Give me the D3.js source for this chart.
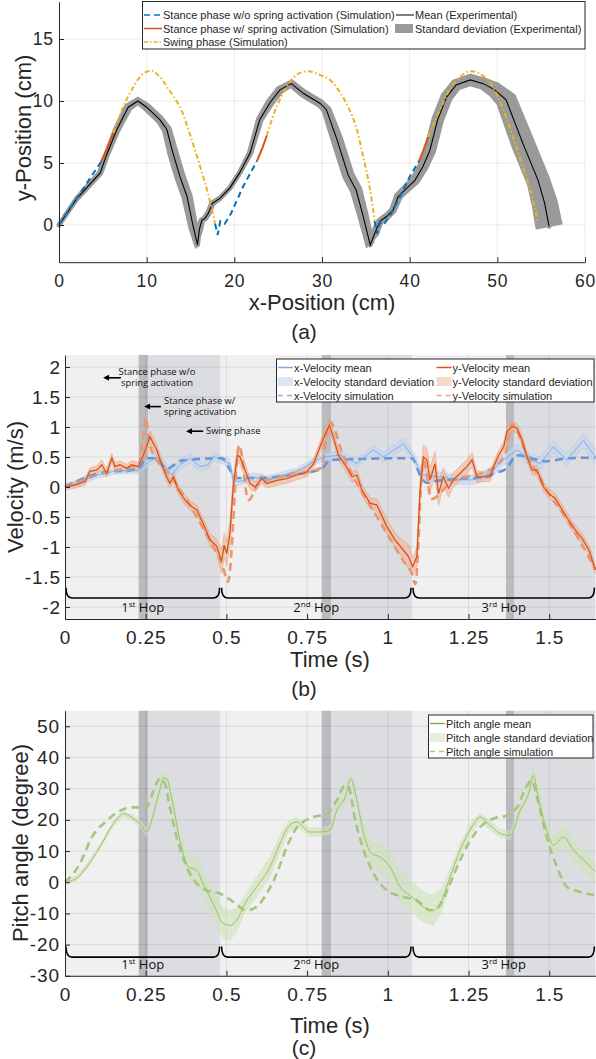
<!doctype html>
<html lang="en">
  <head>
    <meta charset="utf-8">
    <title>Hopping: trajectory, velocity and pitch angle</title>
    <style>
      body { margin: 0; background: #fff; }
      svg { display: block; font-family: 'Liberation Sans', Arial, sans-serif; }
      .tick text { fill: #262626; }
      .domain, .tick line { stroke: #262626; }
    </style>
  </head>
  <body>
    <svg id="fig" width="596" height="1059"></svg>

    <script src="https://cdn.jsdelivr.net/npm/d3@7"></script>
    <script>
      // ---------- data: (a) trajectory, cm  [x, y, sd] ----------
      const trajMean = [
        [0,0,0.1],[2.0,2.1,0.15],[4.7,4.2,0.2],[5.4,5.6,0.2],[6.6,7.7,0.25],[7.9,9.5,0.3],
        [9.0,10.0,0.3],[10.0,9.5,0.3],[11.5,8.5,0.3],[12.3,7.7,0.35],[13.0,5.8,0.4],[13.8,3.9,0.4],
        [14.6,2.3,0.4],[15.3,-0.1,0.35],[15.8,-1.6,0.3],[16.0,-0.4,0.25],[16.3,0.4,0.2],[16.6,0.5,0.2],
        [17.0,0.9,0.2],[17.5,1.75,0.2],[18.35,2.15,0.15],[19.5,3.0,0.15],[20.6,4.2,0.15],[21.8,5.8,0.2],
        [22.9,8.5,0.25],[24.1,9.9,0.3],[25.2,10.9,0.3],[26.5,11.4,0.3],[27.9,10.6,0.3],[29.8,9.8,0.3],
        [30.5,9.3,0.35],[31.7,6.9,0.45],[33.0,4.0,0.45],[33.9,2.8,0.45],[34.7,0.7,0.4],[35.5,-1.6,0.35],
        [36.0,-0.7,0.3],[36.6,0.3,0.25],[37.4,0.7,0.25],[38.1,1.2,0.25],[38.7,2.3,0.3],[39.4,2.8,0.3],
        [40.6,3.6,0.35],[41.5,4.7,0.4],[42.3,6.0,0.45],[43.2,8.5,0.45],[44.2,10.3,0.45],[45.3,11.3,0.45],
        [46.9,11.7,0.45],[48.4,11.4,0.45],[49.7,10.9,0.6],[51.0,10.1,0.8],[52.9,6.6,0.9],[54.65,3.6,0.9],
        [55.4,1.75,1.0],[55.9,-0.1,1.05]
      ]
      // simulation segments [x, y]
      const simStanceNoSpring = [
        [[0,0],[1.5,1.6],[3.2,3.4],[4.8,5.1]],
        [[17.8,0.1],[18.1,-0.8],[18.4,0.3],[18.9,0.1],[19.6,0.9],[21.0,3.1],[22.6,5.2]],
        [[36.0,0.3],[36.3,-0.7],[36.6,0.2],[37.0,0.0],[37.8,0.8],[38.9,2.3],[40.0,3.9],[41.1,5.2]]
      ]
      const simStanceSpring = [
        [[4.8,5.1],[5.5,6.2],[6.2,7.4]],
        [[22.6,5.2],[23.2,6.2],[23.7,7.2]],
        [[41.1,5.2],[41.6,6.1],[42.1,7.1]]
      ]
      const simSwing = [
        [[6.2,7.4],[7.3,9.5],[8.5,11.15],[9.6,12.2],[10.6,12.45],[11.5,11.95],[12.3,11.15],[13.8,9.5],[14.9,7.4],[16.1,4.7],[17.0,2.55],[17.8,0.1]],
        [[23.7,7.2],[24.8,9.5],[26.3,11.5],[27.3,12.2],[28.4,12.4],[29.6,12.15],[30.9,11.7],[32.4,10.3],[33.75,8.2],[34.7,5.5],[35.5,2.8],[36.0,0.3]],
        [[42.1,7.1],[43.6,9.5],[45.0,11.4],[46.9,12.4],[48.8,11.8],[50.1,10.3],[51.4,7.9],[52.9,4.7],[53.9,2.55],[54.65,0.15]]
      ]
      const legendA = [
        'Stance phase w/o spring activation (Simulation)',
        'Stance phase w/ spring activation (Simulation)',
        'Swing phase (Simulation)',
        'Mean (Experimental)',
        'Standard deviation (Experimental)'
      ]

      // ---------- data: (b) velocity, m/s  [t, mean, sd] ----------
      const xVelMean = [
        [0,0.02,0.04],[0.03,0.05,0.05],[0.06,0.12,0.06],[0.1,0.2,0.05],[0.15,0.26,0.05],[0.2,0.28,0.05],
        [0.227,0.27,0.05],[0.25,0.38,0.06],[0.284,0.5,0.07],[0.31,0.35,0.08],[0.33,0.2,0.07],[0.355,0.37,0.08],
        [0.386,0.48,0.08],[0.418,0.34,0.07],[0.444,0.37,0.07],[0.459,0.51,0.07],[0.485,0.45,0.06],[0.511,0.39,0.07],
        [0.521,0.11,0.07],[0.542,0.09,0.06],[0.583,0.17,0.07],[0.625,0.11,0.07],[0.666,0.17,0.07],[0.697,0.23,0.06],
        [0.718,0.25,0.06],[0.759,0.39,0.06],[0.8,0.5,0.06],[0.852,0.53,0.07],[0.904,0.39,0.07],[0.955,0.62,0.08],
        [0.986,0.5,0.08],[1.048,0.72,0.09],[1.079,0.5,0.08],[1.105,0.2,0.08],[1.162,0.17,0.08],[1.213,0.12,0.08],
        [1.265,0.12,0.08],[1.317,0.23,0.08],[1.358,0.45,0.09],[1.4,0.62,0.1],[1.441,0.45,0.1],[1.472,0.39,0.1],
        [1.513,0.67,0.1],[1.554,0.45,0.1],[1.606,0.78,0.12],[1.643,0.5,0.12]
      ]
      const yVelMean = [
        [0,0.0,0.05],[0.031,0.03,0.05],[0.062,0.09,0.06],[0.077,0.26,0.06],[0.098,0.28,0.07],[0.114,0.37,0.08],
        [0.129,0.23,0.07],[0.145,0.48,0.08],[0.155,0.34,0.07],[0.17,0.37,0.07],[0.191,0.31,0.07],[0.207,0.37,0.07],
        [0.227,0.34,0.07],[0.243,0.53,0.08],[0.263,0.84,0.1],[0.284,0.62,0.1],[0.3,0.37,0.08],[0.315,0.17,0.08],
        [0.325,0.06,0.07],[0.336,0.17,0.08],[0.351,-0.05,0.08],[0.372,-0.22,0.08],[0.393,-0.33,0.08],[0.408,-0.38,0.08],
        [0.428,-0.61,0.09],[0.449,-0.88,0.1],[0.47,-0.99,0.12],[0.485,-1.24,0.2],[0.493,-0.97,0.2],[0.501,-1.11,0.2],
        [0.511,-0.77,0.2],[0.521,0.0,0.15],[0.534,0.53,0.12],[0.542,0.5,0.12],[0.558,0.28,0.12],[0.573,0.06,0.1],
        [0.589,0.0,0.08],[0.609,0.14,0.08],[0.625,0.06,0.08],[0.656,0.11,0.08],[0.687,0.14,0.08],[0.718,0.2,0.08],
        [0.749,0.25,0.08],[0.77,0.39,0.08],[0.79,0.67,0.09],[0.805,0.87,0.1],[0.819,1.03,0.1],[0.831,0.84,0.1],
        [0.847,0.53,0.09],[0.868,0.37,0.09],[0.889,0.17,0.09],[0.904,0.2,0.09],[0.92,-0.05,0.09],[0.945,-0.27,0.09],
        [0.966,-0.3,0.1],[0.997,-0.66,0.12],[1.022,-0.88,0.12],[1.048,-1.05,0.15],[1.064,-1.16,0.2],[1.077,-1.33,0.15],
        [1.09,-1.16,0.15],[1.1,-0.05,0.15],[1.11,0.5,0.2],[1.121,0.45,0.2],[1.131,0.12,0.2],[1.146,0.39,0.2],
        [1.157,-0.11,0.2],[1.172,0.17,0.15],[1.188,-0.02,0.15],[1.203,0.12,0.12],[1.224,0.23,0.12],[1.245,0.34,0.12],
        [1.261,0.45,0.12],[1.276,0.17,0.1],[1.297,0.17,0.08],[1.317,0.17,0.08],[1.328,0.34,0.08],[1.343,0.53,0.08],
        [1.359,0.67,0.08],[1.369,0.92,0.08],[1.385,1.01,0.08],[1.4,0.98,0.08],[1.416,0.78,0.08],[1.431,0.5,0.08],
        [1.447,0.28,0.08],[1.462,0.28,0.08],[1.483,0.0,0.08],[1.498,-0.11,0.08],[1.519,-0.19,0.08],[1.54,-0.38,0.08],
        [1.56,-0.55,0.08],[1.581,-0.72,0.08],[1.602,-0.86,0.08],[1.623,-1.05,0.08],[1.643,-1.38,0.08]
      ]
      const xVelSim = [
        [0,0],[0.1,0.22],[0.15,0.26],[0.207,0.28],[0.228,0.3],[0.253,0.48],[0.28,0.48],[0.315,0.3],[0.36,0.44],
        [0.487,0.48],[0.515,0.25],[0.53,0.15],[0.6,0.15],[0.7,0.2],[0.795,0.3],[0.82,0.45],[1.075,0.48],[1.1,0.2],
        [1.12,0.07],[1.15,0.1],[1.3,0.17],[1.336,0.24],[1.366,0.3],[1.4,0.53],[1.49,0.43],[1.56,0.48],[1.643,0.49]
      ]
      const yVelSim = [
        [0,0],[0.05,0.1],[0.1,0.2],[0.15,0.27],[0.2,0.32],[0.228,0.36],[0.24,0.75],[0.25,1.17],[0.262,0.7],
        [0.336,0.12],[0.377,-0.22],[0.408,-0.5],[0.45,-0.9],[0.487,-1.3],[0.505,-1.58],[0.54,0.7],[0.568,-0.22],
        [0.6,0.05],[0.7,0.2],[0.795,0.32],[0.81,0.9],[0.822,1.08],[0.86,0.55],[0.9,0.1],[0.95,-0.35],[1.0,-0.8],
        [1.05,-1.25],[1.075,-1.45],[1.085,-1.62],[1.11,0.45],[1.135,-0.2],[1.2,0.1],[1.3,0.25],[1.345,0.4],
        [1.366,0.6],[1.385,1.05],[1.43,0.55],[1.5,-0.12],[1.55,-0.5],[1.6,-0.95],[1.643,-1.38]
      ]
      const legendB = [
        'x-Velocity mean', 'x-Velocity standard deviation', 'x-Velocity simulation',
        'y-Velocity mean', 'y-Velocity standard deviation', 'y-Velocity simulation'
      ]
      const notesB = [
        { t: 0.285, v: 1.82, arrow: [0.173, 0.118], lines: ['Stance phase w/o', 'spring activation'], anchor: 'middle' },
        { t: 0.307, v: 1.34, arrow: [0.297, 0.245], lines: ['Stance phase w/', 'spring activation'], anchor: 'start' },
        { t: 0.437, v: 0.93, arrow: [0.428, 0.375], lines: ['Swing phase'], anchor: 'start' }
      ]

      // ---------- data: (c) pitch angle, degree  [t, mean, sd] ----------
      const pitchMean = [
        [0,0.1,0.6],[0.035,1.2,1],[0.067,4.9,1],[0.108,11.3,1],[0.15,18.8,1],[0.181,22,1],[0.212,20.4,1.2],
        [0.232,18.8,1.2],[0.253,16.1,1.5],[0.274,22,2],[0.295,30,3],[0.305,33.5,2.5],[0.315,33.2,2.5],[0.33,27.3,2.5],
        [0.356,13.4,3],[0.382,4.9,4],[0.408,3.8,4.5],[0.428,-0.5,4],[0.459,-6.9,4.5],[0.49,-13.2,5],[0.511,-13.8,5],
        [0.532,-12.2,4],[0.557,-6.9,3],[0.593,-1.6,3.5],[0.635,4.9,3.5],[0.666,12.4,3],[0.692,17.7,2],[0.718,19.3,1.5],
        [0.738,17.7,1.5],[0.759,16.1,1.5],[0.79,16.1,1.5],[0.821,16.7,1.5],[0.842,23.1,2],[0.868,27.3,2.5],
        [0.885,33.2,2.5],[0.904,26.3,3],[0.925,15.6,4],[0.95,9.2,4],[0.976,8.1,5],[1.007,4.9,5],[1.038,-1.5,5],
        [1.075,-4.7,5],[1.11,-7.9,5],[1.141,-9,5],[1.167,-5.8,4],[1.193,1.7,3],[1.224,10.3,2.5],[1.26,17.7,2],
        [1.286,20.9,1.5],[1.317,18.2,1.5],[1.348,15.6,1.5],[1.379,15,1.5],[1.41,23.1,2],[1.436,28.4,3],
        [1.451,34.3,3],[1.466,27.3,3],[1.492,16.7,3],[1.513,11.9,3],[1.544,14.5,3.5],[1.575,10.3,3.5],
        [1.606,7.1,3.5],[1.643,3.4,3.5]
      ]
      const pitchSim = [
        [0,0],[0.046,5.9],[0.083,14.4],[0.129,19.7],[0.17,22.9],[0.212,24],[0.253,24],[0.274,29.3],[0.294,33.3],
        [0.31,31.4],[0.325,24],[0.346,14.4],[0.377,4.9],[0.408,-0.4],[0.439,-2.6],[0.48,-3.6],[0.521,-6.3],
        [0.563,-9],[0.593,-7.9],[0.625,-3.6],[0.656,2.8],[0.687,11.3],[0.718,17.5],[0.769,20.9],[0.81,21.9],
        [0.842,26.3],[0.868,31.1],[0.878,30.6],[0.899,19.9],[0.925,10.3],[0.956,2.8],[0.997,-2.6],[1.048,-4.7],
        [1.09,-5.8],[1.131,-9],[1.157,-7.9],[1.188,-1.5],[1.219,5.9],[1.25,12.4],[1.286,17.7],[1.327,20.4],
        [1.369,21.4],[1.4,24],[1.431,31],[1.446,32.6],[1.462,27.3],[1.492,14.5],[1.524,4.9],[1.555,-1.5],
        [1.596,-3.1],[1.643,-4.2]
      ]
      const legendC = ['Pitch angle mean', 'Pitch angle standard deviation', 'Pitch angle simulation']

      // ---------- shared: gait phases and hops ----------
      const phaseBounds = [0, 0.228, 0.258, 0.482, 0.795, 0.824, 1.075, 1.366, 1.391, 1.643]
      const phaseKinds = ['noSpring', 'spring', 'swing', 'noSpring', 'spring', 'swing', 'noSpring', 'spring', 'swing']
      const hopBounds = [[0, 0.482], [0.482, 1.075], [1.075, 1.643]]
      const hopNums = ['1', '2', '3']
      const hopSuffix = ['st', 'nd', 'rd']

      const timeTicks = [0, 0.25, 0.5, 0.75, 1, 1.25, 1.5]
      const velTicks = [-2, -1.5, -1, -0.5, 0, 0.5, 1, 1.5, 2]
      const pitchTicks = [-30, -20, -10, 0, 10, 20, 30, 40, 50]
      const posXTicks = [0, 10, 20, 30, 40, 50, 60]
      const posYTicks = [0, 5, 10, 15]

      // ---------- styles ----------
      const phaseFill = { noSpring: '#f0f0f0', spring: '#babbbe', swing: '#dcdde0' }
      const ink = '#262626'

      const svg = d3.select('#fig')

      const xA = d3.scaleLinear().domain([0, 60]).range([59, 585])
      const yA = d3.scaleLinear().domain([-3, 18]).range([262.2, 1.8])
      const xT = d3.scaleLinear().domain([0, 1.643]).range([65, 595.4])
      const yB = d3.scaleLinear().domain([-2.2, 2.2]).range([619, 355])
      const yC = d3.scaleLinear().domain([-30, 55]).range([975.8, 710.7])

      function grid(g, x, y, xt, yt, color, op) {
        const gg = g.append('g').attr('stroke', color).attr('stroke-opacity', op).attr('stroke-width', 1)
        gg.selectAll('.gx').data(xt).join('line').attr('class', 'gx')
          .attr('x1', d => x(d)).attr('x2', d => x(d))
          .attr('y1', y.range()[0]).attr('y2', y.range()[1])
        gg.selectAll('.gy').data(yt).join('line').attr('class', 'gy')
          .attr('x1', x.range()[0]).attr('x2', x.range()[1])
          .attr('y1', d => y(d)).attr('y2', d => y(d))
      }

      function axes(g, x, y, xt, yt, fs, xPad, yPad) {
        const fmt = d => String(d)
        const ax = g.append('g').attr('transform', `translate(0,${y.range()[0]})`)
          .call(d3.axisBottom(x).tickValues(xt).tickFormat(fmt).tickSize(-5).tickSizeOuter(0).tickPadding(xPad))
        const ay = g.append('g').attr('transform', `translate(${x.range()[0]},0)`)
          .call(d3.axisLeft(y).tickValues(yt).tickFormat(fmt).tickSize(-5).tickSizeOuter(0).tickPadding(yPad))
        ;[ax, ay].forEach(a => a.selectAll('text')
          .attr('font-size', fs).attr('letter-spacing', 0.9)
          .attr('font-family', "'Liberation Sans', Arial, sans-serif"))
        ax.select('.domain').attr('stroke-width', 1)
        ay.select('.domain').attr('stroke-width', 1)
      }

      function titleText(x, y, text, rotate, fs) {
        const t = svg.append('text')
          .attr('font-size', fs || 22).attr('fill', ink).attr('text-anchor', 'middle')
          .text(text)
        if (rotate) t.attr('transform', `translate(${x},${y}) rotate(-90)`)
        else t.attr('x', x).attr('y', y)
      }

      // offset ribbon around a 2D path (pixel space), half-width in px
      function ribbon(pts) {
        const left = [], right = []
        pts.forEach((p, i) => {
          const a = pts[Math.max(i - 1, 0)], b = pts[Math.min(i + 1, pts.length - 1)]
          const dx = b[0] - a[0], dy = b[1] - a[1]
          const len = Math.hypot(dx, dy) || 1
          const nx = -dy / len, ny = dx / len
          left.push([p[0] + nx * p[2], p[1] + ny * p[2]])
          right.push([p[0] - nx * p[2], p[1] - ny * p[2]])
        })
        return left.concat(right.reverse())
      }

      // ================= (a) =================
      const gA = svg.append('g')
      grid(gA, xA, yA, posXTicks.slice(1), posYTicks, '#262626', 0.09)

      const lineA = d3.line().x(d => xA(d[0])).y(d => yA(d[1]))
      const pxPerCm = yA(0) - yA(1)
      const bandPts = trajMean.map(d => [xA(d[0]), yA(d[1]), d[2] * pxPerCm])
      gA.append('path')
        .attr('d', d3.line().curve(d3.curveLinearClosed)(ribbon(bandPts)))
        .attr('fill', '#9a9a9a').attr('stroke', '#9a9a9a').attr('stroke-width', 1.5)
        .attr('stroke-linejoin', 'round')
      gA.append('path').attr('d', lineA(trajMean))
        .attr('fill', 'none').attr('stroke', '#9a9a9a').attr('stroke-width', 5)
        .attr('stroke-linejoin', 'round').attr('stroke-linecap', 'round')
      gA.append('path').attr('d', lineA(trajMean))
        .attr('fill', 'none').attr('stroke', '#000').attr('stroke-width', 1.1)

      const smoothA = d3.line().curve(d3.curveCatmullRom.alpha(0.5)).x(d => xA(d[0])).y(d => yA(d[1]))
      gA.selectAll('.sw').data(simSwing).join('path').attr('class', 'sw')
        .attr('d', smoothA).attr('fill', 'none').attr('stroke', '#edb120')
        .attr('stroke-width', 2).attr('stroke-dasharray', '5,2.5,1.5,2.5')
      gA.selectAll('.sn').data(simStanceNoSpring).join('path').attr('class', 'sn')
        .attr('d', lineA).attr('fill', 'none').attr('stroke', '#0072bd')
        .attr('stroke-width', 2).attr('stroke-dasharray', '6,4')
      gA.selectAll('.ss').data(simStanceSpring).join('path').attr('class', 'ss')
        .attr('d', lineA).attr('fill', 'none').attr('stroke', '#d95319').attr('stroke-width', 2)

      axes(gA, xA, yA, posXTicks, posYTicks, 17.5, 12.6, 5)
      titleText(322, 310, 'x-Position (cm)')
      titleText(31, 128, 'y-Position (cm)', true)
      titleText(304, 339, '(a)', false, 21)

      // legend (a)
      const lgA = svg.append('g')
      lgA.append('rect').attr('x', 142.5).attr('y', 1.5).attr('width', 442.5).attr('height', 47.5)
        .attr('fill', '#fff').attr('stroke', ink).attr('stroke-width', 1)
      const legAPos = [[143, 15], [143, 28.5], [143, 42], [395, 15], [395, 28.5]]
      const legAStyle = [
        { stroke: '#0072bd', dash: '6,4' }, { stroke: '#d95319' }, { stroke: '#edb120', dash: '4,2,1.5,2' },
        { stroke: '#000', width: 1 }, { rect: '#9a9a9a' }
      ]
      legendA.forEach((label, i) => {
        const [lx, ly] = legAPos[i], st = legAStyle[i]
        if (st.rect) {
          lgA.append('rect').attr('x', lx).attr('y', ly - 4.5).attr('width', 18).attr('height', 9).attr('fill', st.rect)
        } else {
          lgA.append('line').attr('x1', lx + 1).attr('x2', lx + 19).attr('y1', ly).attr('y2', ly)
            .attr('stroke', st.stroke).attr('stroke-width', st.width || 1.5)
            .attr('stroke-dasharray', st.dash || null)
        }
        lgA.append('text').attr('x', lx + 20).attr('y', ly + 4).attr('font-size', 11)
          .attr('fill', ink).text(label)
      })

      // ================= (b) & (c) shared helpers =================
      function phases(g, y) {
        g.selectAll('.ph').data(phaseKinds).join('rect').attr('class', 'ph')
          .attr('x', (d, i) => xT(phaseBounds[i]))
          .attr('width', (d, i) => xT(phaseBounds[i + 1]) - xT(phaseBounds[i]))
          .attr('y', y.range()[1]).attr('height', y.range()[0] - y.range()[1])
          .attr('fill', d => phaseFill[d])
      }

      function hops(g, y, vLine, vTop, vText) {
        const r = 6
        g.selectAll('.hop').data(hopBounds).join('path').attr('class', 'hop')
          .attr('d', d => {
            const x0 = xT(d[0]) + 1, x1 = xT(d[1]) - 1, yl = y(vLine), yt = y(vTop)
            return `M${x0},${yt} Q${x0},${yl} ${x0 + r},${yl} L${x1 - r},${yl} Q${x1},${yl} ${x1},${yt}`
          })
          .attr('fill', 'none').attr('stroke', '#000').attr('stroke-width', 1.6)
        const lab = g.selectAll('.hopl').data(hopBounds).join('text').attr('class', 'hopl')
          .attr('x', d => xT((d[0] + d[1]) / 2)).attr('y', y(vText))
          .attr('text-anchor', 'middle').attr('font-family', "'Open Sans', sans-serif")
          .attr('font-size', 13).attr('fill', '#111')
        lab.append('tspan').text((d, i) => hopNums[i])
        lab.append('tspan').attr('dy', -5).attr('font-size', 8).text((d, i) => hopSuffix[i])
        lab.append('tspan').attr('dy', 5).text(' Hop')
      }

      function band(g, y, data, fill, op, edge) {
        const area = d3.area().x(d => xT(d[0])).y0(d => y(d[1] - d[2])).y1(d => y(d[1] + d[2]))
        g.append('path').attr('d', area(data)).attr('fill', fill).attr('fill-opacity', op)
        if (edge) {
          const lo = d3.line().x(d => xT(d[0])).y(d => y(d[1] - d[2]))
          const hi = d3.line().x(d => xT(d[0])).y(d => y(d[1] + d[2]))
          ;[lo, hi].forEach(l => g.append('path').attr('d', l(data)).attr('fill', 'none')
            .attr('stroke', edge).attr('stroke-opacity', 0.55).attr('stroke-width', 0.7))
        }
      }

      function series(g, y, data, color, width, dash, curve) {
        const l = d3.line().x(d => xT(d[0])).y(d => y(d[1]))
        if (curve) l.curve(curve)
        g.append('path').attr('d', l(data)).attr('fill', 'none').attr('stroke', color)
          .attr('stroke-width', width).attr('stroke-dasharray', dash || null)
      }

      function legendBox(g, x0, y0, w, h, items) {
        g.append('rect').attr('x', x0).attr('y', y0).attr('width', w).attr('height', h)
          .attr('fill', '#fff').attr('stroke', ink).attr('stroke-width', 1)
        items.forEach(it => {
          if (it.rect) {
            g.append('rect').attr('x', it.x).attr('y', it.y - 4.5).attr('width', 15).attr('height', 9).attr('fill', it.rect)
          } else {
            g.append('line').attr('x1', it.x).attr('x2', it.x + 15).attr('y1', it.y).attr('y2', it.y)
              .attr('stroke', it.stroke).attr('stroke-width', it.width).attr('stroke-dasharray', it.dash || null)
          }
          g.append('text').attr('x', it.x + 16).attr('y', it.y + 4).attr('font-size', 11)
            .attr('fill', ink).text(it.label)
        })
      }

      // ================= (b) =================
      const gB = svg.append('g')
      phases(gB, yB)
      grid(gB, xT, yB, timeTicks.slice(1), velTicks, '#262626', 0.1)
      band(gB, yB, xVelMean, '#c3d5f0', 0.65, '#a6c1e8')
      band(gB, yB, yVelMean, '#f2b294', 0.6, '#e8875a')
      series(gB, yB, xVelSim, '#6894d8', 2.6, '8,5', d3.curveMonotoneX)
      series(gB, yB, yVelSim, '#ec9670', 2.6, '8,5', d3.curveMonotoneX)
      series(gB, yB, xVelMean, '#84addf', 1)
      series(gB, yB, yVelMean, '#d95319', 1.3)
      hops(gB, yB, -1.85, -1.68, -2.09)
      axes(gB, xT, yB, timeTicks, velTicks, 19, 11.3, 4)

      // annotations
      notesB.forEach(n => {
        const tx = svg.append('text').attr('font-family', "'Open Sans', sans-serif").attr('font-size', 9.4)
          .attr('fill', '#111').attr('text-anchor', n.anchor)
        const y0 = yB(n.v) - (n.lines.length - 1) * 5.5 + 3
        n.lines.forEach((s, i) => tx.append('tspan').attr('x', xT(n.t)).attr('y', y0 + i * 11).text(s))
        const ay = yB(n.v), xa = xT(n.arrow[0]), xb = xT(n.arrow[1])
        svg.append('line').attr('x1', xa).attr('x2', xb + 4).attr('y1', ay).attr('y2', ay)
          .attr('stroke', '#000').attr('stroke-width', 1.6)
        svg.append('path').attr('d', `M${xb},${ay} L${xb + 6},${ay - 3} L${xb + 6},${ay + 3} Z`).attr('fill', '#000')
      })

      const lgB = svg.append('g')
      legendBox(lgB, 276.5, 359, 317.5, 43, [
        { x: 278, y: 367.5, stroke: '#84addf', width: 1.5, label: legendB[0] },
        { x: 278, y: 381.5, rect: '#dbe5f4', label: legendB[1] },
        { x: 278, y: 395.5, stroke: '#8aafe0', width: 1.5, dash: '5,4', label: legendB[2] },
        { x: 436.5, y: 367.5, stroke: '#d95319', width: 1.5, label: legendB[3] },
        { x: 436.5, y: 381.5, rect: '#f6d9c9', label: legendB[4] },
        { x: 436.5, y: 395.5, stroke: '#eea385', width: 1.5, dash: '5,4', label: legendB[5] }
      ])

      titleText(330, 667, 'Time (s)')
      titleText(23, 487, 'Velocity (m/s)', true)
      titleText(304, 696, '(b)', false, 21)

      // ================= (c) =================
      const gC = svg.append('g')
      phases(gC, yC)
      grid(gC, xT, yC, timeTicks.slice(1), pitchTicks, '#262626', 0.1)
      band(gC, yC, pitchMean, '#cfe2b8', 0.6)
      series(gC, yC, pitchSim, '#a5c67f', 2.6, '8,5', d3.curveMonotoneX)
      series(gC, yC, pitchMean, '#98c268', 1, null, d3.curveMonotoneX)
      hops(gC, yC, -24, -20.6, -27.8)
      axes(gC, xT, yC, timeTicks, pitchTicks, 19, 11.3, 5)

      const lgC = svg.append('g')
      legendBox(lgC, 428.5, 715, 164.5, 43, [
        { x: 430, y: 723.5, stroke: '#77ac30', width: 1.3, label: legendC[0] },
        { x: 430, y: 737.5, rect: '#e6efdb', label: legendC[1] },
        { x: 430, y: 751.5, stroke: '#a5c67f', width: 1.5, dash: '5,4', label: legendC[2] }
      ])

      titleText(330, 1033, 'Time (s)')
      titleText(27.5, 843, 'Pitch angle (degree)', true)
      titleText(304, 1055, '(c)', false, 21)
    </script>
  </body>
</html>
